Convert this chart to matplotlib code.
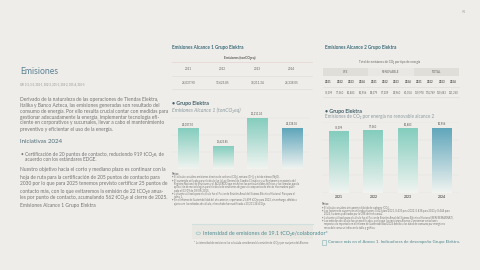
import matplotlib.pyplot as plt
import numpy as np
from matplotlib.colors import LinearSegmentedColormap
from matplotlib.patches import Rectangle, Circle

W, H = 480, 270
BG = '#efede9'
TEAL = '#3b6b7b'
BODY = '#737373'

years = ['2021', '2022', '2023', '2024']
alcance1 = [24037.90, 13625.85, 30211.34, 24338.05]
cfe = [76399, 77560, 80483, 80956]
renovable = [83579, 97209, 38960, 40304]
total = [159978, 174769, 119443, 121260]

para1 = ["Derivado de la naturaleza de las operaciones de Tiendas Elektra,",
         "Italika y Banco Azteca, las emisiones generadas son resultado del",
         "consumo de energía. Por ello resulta crucial contar con medidas para",
         "gestionar adecuadamente la energía, implementar tecnología efi-",
         "ciente en corporativos y sucursales, llevar a cabo el mantenimiento",
         "preventivo y eficientar el uso de la energía."]
bullet = ["Certificación de 20 puntos de contacto, reduciendo 919 tCO₂e, de",
          "acuerdo con los estándares EDGE."]
para2 = ["Nuestro objetivo hacia el corto y mediano plazo es continuar con la",
         "hoja de ruta para la certificación de 205 puntos de contacto para",
         "2030 por lo que para 2025 tenemos previsto certificar 25 puntos de",
         "contacto más, con lo que evitaremos la emisión de 22 tCO₂e anua-",
         "les por punto de contacto, acumulando 562 tCO₂e al cierre de 2025.",
         "Emisiones Alcance 1 Grupo Elektra"]
notes1 = ["Notas:",
          "• El cálculo considera emisiones directas de carbono (CO₂), metano (CH₄) y óxido nitroso (N₂O).",
          "• El contenido utilizado para el cálculo fue la Ley General de Cambio Climático y su Reglamento en materia del",
          "   Registro Nacional de Emisiones y el ACUERDO que establece las particularidades técnicas y las fórmulas para la",
          "   aplicación de metodologías para el cálculo de emisiones de gases o compuestos de efecto invernadero publi-",
          "   cado el 03/09 de 09/09/2015.",
          "• La fuente utilizada para el cálculo fue el Factor de Emisión Anual del Sistema Eléctrico Nacional. Para para el",
          "   rubro 1.",
          "• En el Informe de Sustentabilidad del año anterior, reportamos 25,699 tCO₂e para 2023, sin embargo, debido a",
          "   ajustes en los métodos de cálculo, el resultado fue modificado a 30,211.34 tCO₂e."]
notes2 = ["Notas:",
          "• El cálculo considera únicamente dióxido de carbono (CO₂).",
          "• Los factores de conversión utilizados fueron: 0.423 para 2021, 0.435 para 2022, 0.438 para 2023 y 0.444 para",
          "   2024, factores publicados por la CRE de fecha anual.",
          "• La fuente utilizada para el cálculo fue el Factor de Emisión Anual del Sistema Eléctrico Nacional (SEN/SEMARNAT).",
          "• Los métodos de cálculo fueron modificados, por lo que las emisiones Alcance 2 presentan variaciones",
          "   respecto a lo reportado en el Informe de Sustentabilidad 2023 debido a los datos de consumo por energía no",
          "   renovable como se indica en la tabla y gráfica."]

plt.rcParams['font.family'] = ['Lato', 'DejaVu Sans']
fig = plt.figure(figsize=(4.8, 2.7), dpi=100, facecolor=BG)


def T(x, y, s, size, color=BODY, ha='left', **kw):
    fig.text(x / W, 1 - y / H, s, fontsize=size, color=color, ha=ha, va='center', **kw)


def hline(x0, x1, y, color='#dedbd5', lw=0.4):
    fig.add_artist(plt.Line2D([x0 / W, x1 / W], [1 - y / H, 1 - y / H], color=color, lw=lw))


def gradient_bars(ax, values, last_dark=True):
    bars = ax.bar(range(len(values)), values, width=0.58, color='none', zorder=3)
    for i, b in enumerate(bars):
        top = '#5ea5ba' if (last_dark and i == len(values) - 1) else '#84cdbe'
        cm = LinearSegmentedColormap.from_list('g', ['#f1f4f1', top])
        grad = np.linspace(1, 0, 256).reshape(-1, 1)
        im = ax.imshow(grad, extent=[b.get_x(), b.get_x() + b.get_width(), 0, b.get_height()],
                       aspect='auto', cmap=cm, zorder=2)
        im.set_clip_path(b)
    return bars


def style_axes(ax, pad):
    for s in ax.spines.values():
        s.set_visible(False)
    ax.set_facecolor('none')
    ax.set_xticks(range(len(years)))
    ax.set_xticklabels(years, fontsize=2.4, fontweight='bold', color='#555555')
    ax.tick_params(axis='x', length=0, pad=pad)
    ax.tick_params(axis='y', length=0, labelleft=False)
    ax.grid(axis='y', color='#e2e0db', lw=0.3)
    ax.set_axisbelow(True)
    ax.set_xlim(-0.5, len(years) - 0.5)


# left column
T(462, 12, '91', 2.5, color='#9a9a9a')
T(20, 72, 'Emisiones', 6.2, color='#5b8193')
T(20, 84, 'GRI 3-3, 3-3, 302-1, 302-3, 305-1, 305-2, 305-4, 305-5', 1.9, color='#8a8a8a')
for i, line in enumerate(para1):
    T(20, 99 + i * 6.0, line, 3.5)
T(20, 141.5, 'Iniciativas 2024', 4.4, color='#4b6c79')
T(20.5, 154.3, '•', 3.5)
for i, line in enumerate(bullet):
    T(25, 154.3 + i * 5.2, line, 3.4)
for i, line in enumerate(para2):
    T(20, 170 + i * 7.0, line, 3.5)

# middle column: table alcance 1
T(172, 47.7, 'Emisiones Alcance 1 Grupo Elektra', 3.3, color=TEAL, fontweight='bold')
T(240, 57.5, 'Emisiones (tonCO₂eq)', 2.3, color='#555555', ha='center', fontweight='bold')
hline(172, 312, 62, color='#e4d3cf', lw=0.5)
hline(172, 312, 75.5)
hline(172, 312, 89)
for i, (yr, v) in enumerate(zip(years, alcance1)):
    T(188.3 + i * 34.5, 69, yr, 2.2, color='#666666', ha='center')
    T(188.3 + i * 34.5, 82.3, f'{v:,.2f}', 2.2, color='#666666', ha='center')

T(172, 104, '• Grupo Elektra', 3.8, color='#3f5f6b', fontweight='bold')
T(172, 110.3, 'Emisiones Alcance 1 (tonCO₂eq)', 3.7, color='#8a9ba1', style='italic')

ax1 = fig.add_axes([171 / W, 1 - 161 / H, 138 / W, 49 / H])
b1 = gradient_bars(ax1, alcance1)
style_axes(ax1, 2.5)
ax1.set_ylim(4500, 4500 + (max(alcance1) - 4500) * 49 / 43.3)
ax1.bar_label(b1, labels=[f'{v:,.2f}' for v in alcance1], fontsize=1.9, padding=1.5,
              color='#555555')

for i, line in enumerate(notes1):
    T(172, 174 + i * 3.3, line, 1.9, color='#777777', fontweight='bold' if i == 0 else 'normal')

# banner
fig.add_artist(Rectangle((191.5 / W, 1 - 238.5 / H), 121 / W, 14.5 / H, transform=fig.transFigure,
                         facecolor='#e8e7e2', edgecolor='none'))
hline(191.5, 312.5, 224, color='#cfe0df', lw=0.8)
fig.add_artist(Circle((198.3 / W, 1 - 233.3 / H), 2.2 / W, transform=fig.transFigure,
                      facecolor='none', edgecolor='#9cc5c2', lw=0.5))
T(203, 233.3, 'Intensidad de emisiones de 19.1 tCO₂e/colaborador*', 3.9, color='#4d8a92')
T(308, 242.7, '* La intensidad de emisiones fue calculada considerando la emisión de tCO₂e por conjunto del Alcance',
  1.9, color='#777777', ha='right')

# right column: table alcance 2
T(325, 47.7, 'Emisiones Alcance 2 Grupo Elektra', 3.3, color=TEAL, fontweight='bold')
T(390, 61.7, 'Total de emisiones de CO₂ por tipo de energía', 2.2, color='#666666', ha='center')
groups = ['CFE', 'RENOVABLE', 'TOTAL']
edges = [323, 367.7, 414, 459]
for g, name in enumerate(groups):
    fig.add_artist(Rectangle((edges[g] / W, 1 - 75.8 / H), (edges[g + 1] - edges[g]) / W, 8 / H,
                             transform=fig.transFigure, edgecolor='none',
                             facecolor='#e8e7e3' if g == 1 else '#dfded9'))
    T((edges[g] + edges[g + 1]) / 2, 71.8, name, 2.2, color='#666666', ha='center')
hline(323, 459, 86.5)
hline(323, 459, 97)
row_vals = cfe + renovable + total
for j in range(12):
    T(328.5 + j * 11.35, 81.7, years[j % 4], 2.1, color='#555555', ha='center', fontweight='bold')
    T(328.5 + j * 11.35, 92.3, f'{row_vals[j]:,}', 1.9, color='#666666', ha='center')

T(325, 111, '• Grupo Elektra', 3.8, color='#3f5f6b', fontweight='bold')
T(325, 116.8, 'Emisiones de CO₂ por energía no renovable alcance 2', 3.3, color='#8a9ba1')

ax2 = fig.add_axes([322 / W, 1 - 193 / H, 137 / W, 71 / H])
b2 = gradient_bars(ax2, cfe)
style_axes(ax2, 1.2)
ax2.set_ylim(0, max(cfe) * 71 / 65.3)
ax2.set_yticks(np.linspace(0, ax2.get_ylim()[1], 5))
ax2.bar_label(b2, labels=[f'{v:,}' for v in cfe], fontsize=1.9, padding=1.5, color='#555555')

for i, line in enumerate(notes2):
    T(322, 204.3 + i * 3.35, line, 1.9, color='#777777', fontweight='bold' if i == 0 else 'normal')

fig.add_artist(Rectangle((322 / W, 1 - 244.5 / H), 4 / W, 4.5 / H, transform=fig.transFigure,
                         facecolor='none', edgecolor='#7fb0b3', lw=0.4))
T(328.5, 242.3, 'Conoce más en el Anexo 1. Indicadores de desempeño Grupo Elektra.', 3.15,
  color='#4d8a92')

plt.savefig('out.png', dpi=100, facecolor=BG)
